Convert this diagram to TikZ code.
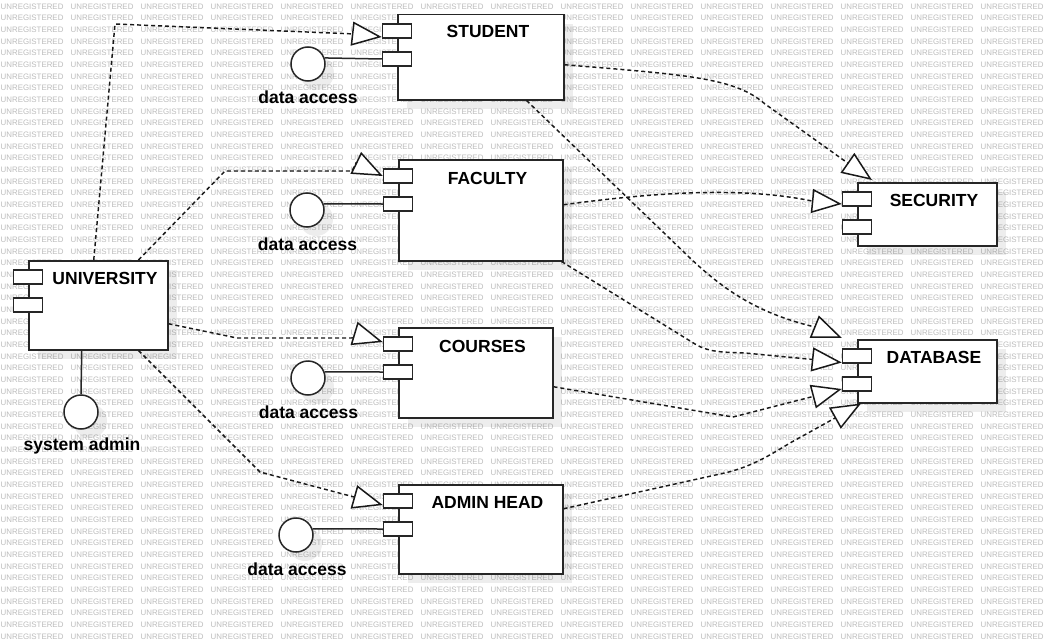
\documentclass[tikz,border=0pt]{standalone}
\usepackage{fontspec}
\setmainfont{Liberation Sans}
\usetikzlibrary{arrows.meta,shadows,calc}
\begin{document}
\begin{tikzpicture}[x=1pt,y=-1pt,
  wm/.style={anchor=base west, inner sep=0pt, text=black!26, font=\fontsize{7.9}{8}\selectfont},
  shd/.style={drop shadow={shadow xshift=9pt,shadow yshift=-9pt,fill=black,opacity=0.07}},
  comp/.style={draw=black!85, line width=1.5pt, fill=white, anchor=north west, inner sep=0pt, shd},
  port/.style={draw=black!85, line width=1.5pt, fill=white, minimum width=29pt, minimum height=14pt, inner sep=0pt},
  iface/.style={circle, draw=black!85, line width=1.5pt, fill=white, minimum size=34pt, inner sep=0pt, shd},
  title/.style={font=\bfseries\fontsize{17.5}{20}\selectfont, anchor=base, inner sep=0pt},
  dep/.style={draw=black!90, line width=1.45pt, dash pattern=on 4pt off 3pt, -{Triangle[length=30pt,width=24pt,fill=white,line width=1.5pt]}},
  wire/.style={draw=black!85, line width=1.5pt}]
\useasboundingbox (0,0) rectangle (1052,642);
\fill[white] (0,0) rectangle (1052,642);
% watermark
\foreach \i in {0,...,14}{\foreach \j in {0,...,54}{%
  \node[wm] (wm-\i-\j) at ({70*\i+0.5},{9.3+11.667*\j}) {UNREGISTERED};}}
% components
\node[comp, minimum width=166pt, minimum height=85pt] (stud) at (397,14) {};
\node[comp, minimum width=164pt, minimum height=101pt] (fac) at (398,159) {};
\node[comp, minimum width=154pt, minimum height=90pt] (cour) at (398,327) {};
\node[comp, minimum width=164pt, minimum height=89pt] (adm) at (398,484) {};
\node[comp, minimum width=139pt, minimum height=89pt] (univ) at (28,260) {};
\node[comp, minimum width=139pt, minimum height=63pt] (sec) at (857,182) {};
\node[comp, minimum width=139pt, minimum height=63pt] (db) at (857,339) {};
% ports
\foreach \b/\p in {stud/sp,fac/fp,cour/cp,adm/ap,univ/up,sec/secp,db/dbp}{
  \node[port] (\p1) at ([yshift=-17pt]\b.north west) {};
  \node[port] (\p2) at ([yshift=-45pt]\b.north west) {};
}
% titles
\node[title] (studT) at (488,38) {STUDENT};
\node[title] (facT) at (487.5,184) {FACULTY};
\node[title] (courT) at (482.5,352) {COURSES};
\node[title] (admT) at (487.5,508) {ADMIN HEAD};
\node[title] (univT) at (105,284) {UNIVERSITY};
\node[title] (secT) at (934,206) {SECURITY};
\node[title] (dbT) at (934,363) {DATABASE};
% interfaces
\node[iface] (ci1) at (308,64) {};
\node[iface] (ci2) at (307,210) {};
\node[iface] (ci3) at (308,378) {};
\node[iface] (ci4) at (296,535) {};
\node[iface] (sa) at (81,412) {};
\node[title] (l1) at (308,103) {data access};
\node[title] (l2) at (307.5,250) {data access};
\node[title] (l3) at (308.5,418) {data access};
\node[title] (l4) at (297,575) {data access};
\node[title] (l5) at (82,450) {system admin};
\draw[wire] (ci1.20) -- (sp2.west);
\draw[wire] (ci2.20) -- (fp2.west);
\draw[wire] (ci3.20) -- (cp2.west);
\draw[wire] (ci4.20) -- (ap2.west);
\draw[wire] ([xshift=-16.5pt]univ.south) -- (sa.north);
% dependencies
\draw[dep] ([xshift=-4.5pt]univ.north) -- (115,24) -- (355,34) -- ([yshift=-6pt]sp1.west);
\draw[dep] ([xshift=-30pt]univ.north east) -- (225,171) -- (352,171) -- (356,163) -- (fp1.west);
\draw[dep] ([yshift=-18.5pt]univ.east) -- (237,338) -- (352,338) -- (356,334) -- ([yshift=2pt]cp1.west);
\draw[dep] ([xshift=-30pt]univ.south east) -- (260,472) -- (356,497.5) -- ([yshift=-4pt]ap1.west);
\draw[dep] ([yshift=-7.5pt]stud.east) .. controls (690,75) and (735,78) .. (765,104) -- (849,164) -- ([shift={(15pt,2pt)}]sec.north west);
\draw[dep] ([yshift=5.5pt]fac.east) .. controls (650,193) and (740,186) .. (812,201) -- ([yshift=-5pt]secp1.west);
\draw[dep] ([xshift=-38pt]stud.south east) -- (690,258) .. controls (730,296) and (765,315) .. (815,327) -- ([shift={(-15pt,1pt)}]db.north west);
\draw[dep] ([xshift=-2pt]fac.south east) -- (695,344) .. controls (710,353) and (725,352) .. (745,353) -- (813,359.5) -- ([yshift=-6.5pt]dbp1.west);
\draw[dep] ([yshift=-14pt]cour.east) -- (733,417) -- (815,396) -- ([yshift=-5pt]dbp2.west);
\draw[dep] ([yshift=20.5pt]adm.east) -- (720,474) .. controls (750,468) and (770,455) .. (790,443) -- (836,417.5) -- ([xshift=4pt]db.south west);
\end{tikzpicture}
\end{document}
